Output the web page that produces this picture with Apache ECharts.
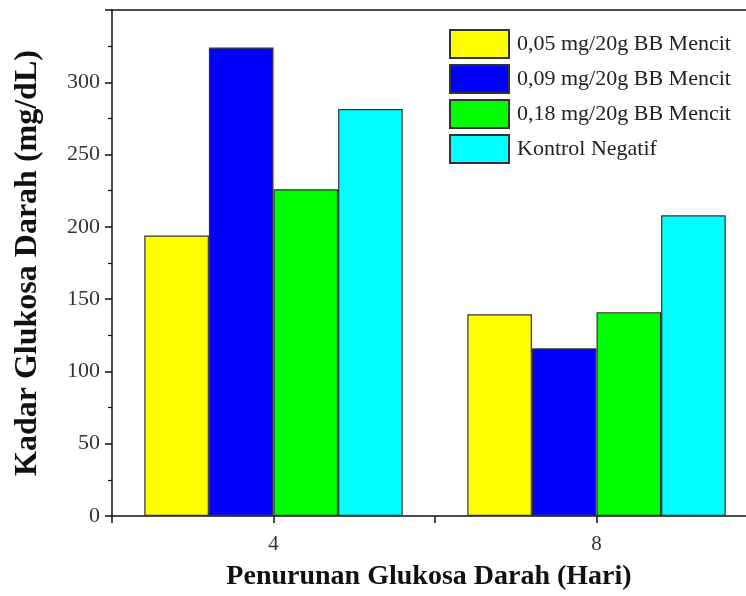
<!DOCTYPE html>
<html>
<head>
<meta charset="utf-8">
<script src="https://cdn.jsdelivr.net/npm/echarts@6/dist/echarts.min.js"></script>
<style>
html,body{margin:0;padding:0;background:#fff;}
#main{width:746px;height:596px;}
</style>
</head>
<body>
<div id="main"></div>
<script>
var days = [4, 8];
var seriesNames = ['0,05 mg/20g BB Mencit', '0,09 mg/20g BB Mencit', '0,18 mg/20g BB Mencit', 'Kontrol Negatif'];
var dose005 = [194, 139.5];
var dose009 = [324, 116];
var dose018 = [226, 141];
var kontrol = [281.5, 208];
var colors = ['#FFFF00', '#0000FF', '#00FF00', '#00FFFF'];
var yTicks = [0, 50, 100, 150, 200, 250, 300];

var values = [dose005, dose009, dose018, kontrol];
var font = '"Liberation Serif", "DejaVu Serif", serif';

var chart = echarts.init(document.getElementById('main'), null, {renderer: 'canvas'});
var series = values.map(function (vals, i) {
  return {
    name: seriesNames[i],
    type: 'bar',
    xAxisIndex: 0,
    data: days.map(function (d, j) { return [d, vals[j]]; }),
    barWidth: '20%',
    barGap: '0%',
    itemStyle: {color: colors[i], borderColor: '#333', borderWidth: 1.2},
    emphasis: {disabled: true}
  };
});

chart.setOption({
  animation: false,
  backgroundColor: '#fff',
  textStyle: {fontFamily: font},
  grid: {left: 112, right: 0, top: 10, bottom: 78.7},
  legend: {
    orient: 'vertical', left: 449, top: 29, padding: 0,
    itemWidth: 59, itemHeight: 28, itemGap: 5,
    icon: 'rect',
    textStyle: {fontFamily: font, fontSize: 22, color: '#222', padding: [0, 0, 0, 3]},
    data: seriesNames
  },
  xAxis: [{
    type: 'value', min: 2, max: 9.851, interval: 2,
    name: 'Penurunan Glukosa Darah (Hari)', nameLocation: 'middle', nameGap: 47,
    nameTextStyle: {fontFamily: font, fontSize: 28, fontWeight: 'bold', color: '#111'},
    axisLine: {show: true, lineStyle: {color: '#111', width: 1.5}},
    axisTick: {show: true, inside: false, length: 7, lineStyle: {color: '#111', width: 1.5}},
    axisLabel: {fontFamily: font, fontSize: 21, color: '#333', margin: 18, showMaxLabel: false,
      formatter: function (v) { return days.indexOf(v) >= 0 ? String(v) : ''; }},
    splitLine: {show: false}
  }, {
    type: 'value', position: 'top', min: 2, max: 9.851, interval: 2,
    axisLine: {show: true, lineStyle: {color: '#111', width: 1.5}},
    axisTick: {show: false}, axisLabel: {show: false}, splitLine: {show: false}
  }],
  yAxis: {
    type: 'value', min: 0, max: 350, interval: 50,
    name: 'Kadar Glukosa Darah (mg/dL)', nameLocation: 'middle', nameGap: 68,
    nameTextStyle: {fontFamily: font, fontSize: 32, fontWeight: 'bold', color: '#111'},
    axisLine: {show: true, lineStyle: {color: '#111', width: 1.5}},
    axisTick: {show: true, inside: false, length: 7, lineStyle: {color: '#111', width: 1.5}},
    minorTick: {show: true, splitNumber: 2, length: 4, lineStyle: {color: '#111', width: 1.2}},
    axisLabel: {fontFamily: font, fontSize: 22, color: '#333', margin: 12,
      formatter: function (v) { return yTicks.indexOf(v) >= 0 ? String(v) : ''; }},
    splitLine: {show: false}
  },
  series: series
});
</script>
</body>
</html>
